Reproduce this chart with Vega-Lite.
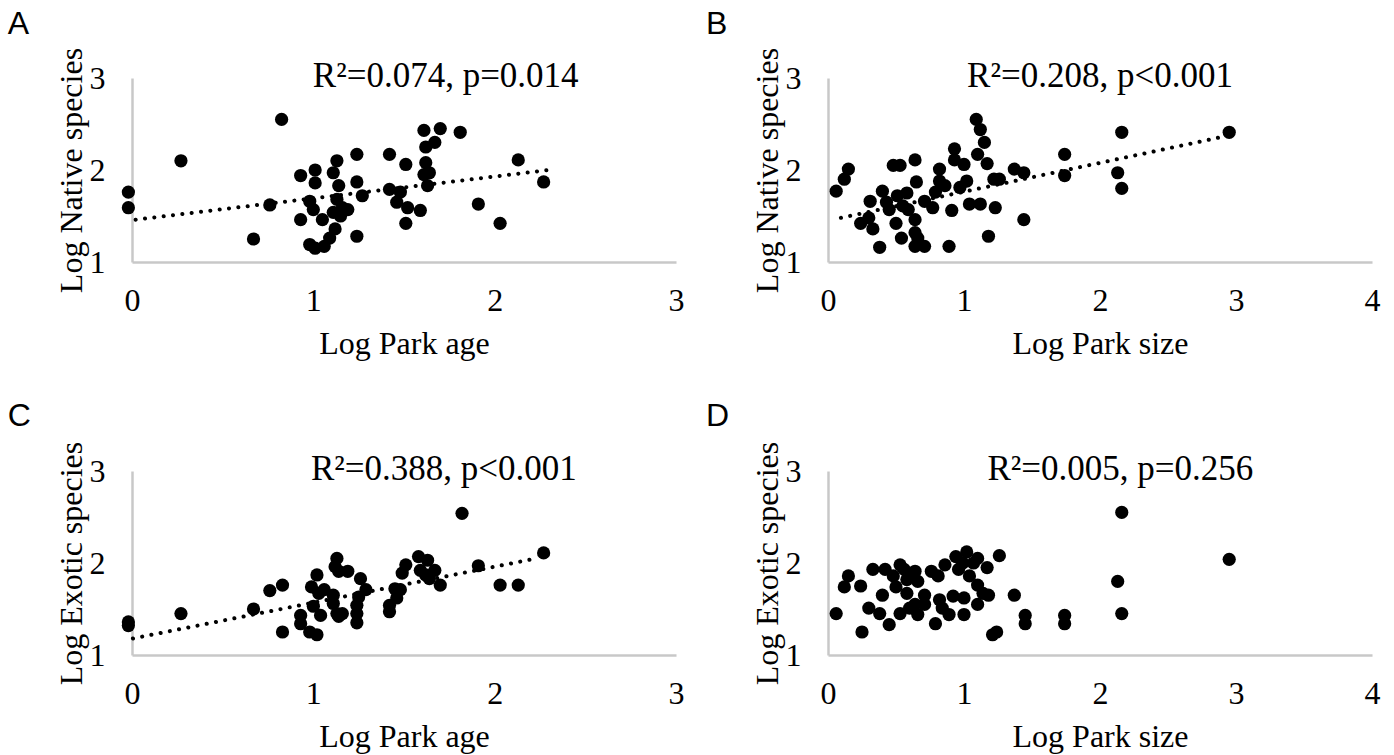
{
  "$schema": "https://vega.github.io/schema/vega-lite/v6.json",
  "background": "white",
  "padding": {"left": 7, "top": 8, "right": 5, "bottom": 5},
  "config": {
    "view": {"stroke": null},
    "axis": {
      "domainColor": "#c8c8c8", "domainWidth": 2.5, "ticks": false, "grid": false,
      "labelFont": "Liberation Serif", "labelFontSize": 32, "labelColor": "black", "labelFlush": false, "labelOverlap": false, "format": "d",
      "titleFont": "Liberation Serif", "titleFontSize": 32, "titleFontWeight": "normal", "titleColor": "black"
    },
    "axisX": {"labelPadding": 23, "titlePadding": 12},
    "axisY": {"labelPadding": 27, "titlePadding": 1}
  },
  "datasets": {
    "ptsA": [
      {"x": -0.02, "y": 1.76}, {"x": -0.02, "y": 1.59}, {"x": 0.27, "y": 2.10}, {"x": 0.825, "y": 2.55},
      {"x": 0.76, "y": 1.62}, {"x": 0.67, "y": 1.25}, {"x": 0.93, "y": 1.94}, {"x": 0.93, "y": 1.46},
      {"x": 1.01, "y": 2.0}, {"x": 1.01, "y": 1.86}, {"x": 0.98, "y": 1.66}, {"x": 1.0, "y": 1.57},
      {"x": 1.05, "y": 1.46}, {"x": 0.98, "y": 1.19}, {"x": 1.01, "y": 1.15}, {"x": 1.06, "y": 1.17},
      {"x": 1.09, "y": 1.26}, {"x": 1.12, "y": 1.36}, {"x": 1.13, "y": 2.10}, {"x": 1.11, "y": 1.97},
      {"x": 1.14, "y": 1.83}, {"x": 1.13, "y": 1.68}, {"x": 1.16, "y": 1.59}, {"x": 1.15, "y": 1.50},
      {"x": 1.19, "y": 1.57}, {"x": 1.11, "y": 1.54}, {"x": 1.24, "y": 2.17}, {"x": 1.24, "y": 1.87},
      {"x": 1.27, "y": 1.72}, {"x": 1.24, "y": 1.28}, {"x": 1.42, "y": 2.17}, {"x": 1.42, "y": 1.79},
      {"x": 1.51, "y": 2.06}, {"x": 1.48, "y": 1.76}, {"x": 1.46, "y": 1.65}, {"x": 1.52, "y": 1.59},
      {"x": 1.59, "y": 1.56}, {"x": 1.51, "y": 1.42}, {"x": 1.61, "y": 2.43}, {"x": 1.70, "y": 2.45},
      {"x": 1.67, "y": 2.30}, {"x": 1.62, "y": 2.25}, {"x": 1.62, "y": 2.08}, {"x": 1.61, "y": 1.95},
      {"x": 1.64, "y": 1.97}, {"x": 1.63, "y": 1.83}, {"x": 1.81, "y": 2.41}, {"x": 1.91, "y": 1.63},
      {"x": 2.03, "y": 1.42}, {"x": 2.13, "y": 2.11}, {"x": 2.27, "y": 1.87}
    ],
    "ptsB": [
      {"x": 0.06, "y": 1.77}, {"x": 0.12, "y": 1.90}, {"x": 0.15, "y": 2.01}, {"x": 0.24, "y": 1.42},
      {"x": 0.31, "y": 1.66}, {"x": 0.30, "y": 1.48}, {"x": 0.33, "y": 1.36}, {"x": 0.38, "y": 1.16},
      {"x": 0.40, "y": 1.77}, {"x": 0.43, "y": 1.65}, {"x": 0.45, "y": 1.57}, {"x": 0.48, "y": 2.05},
      {"x": 0.53, "y": 2.05}, {"x": 0.50, "y": 1.42}, {"x": 0.51, "y": 1.72}, {"x": 0.58, "y": 1.75},
      {"x": 0.55, "y": 1.61}, {"x": 0.54, "y": 1.26}, {"x": 0.59, "y": 1.57}, {"x": 0.64, "y": 2.11},
      {"x": 0.65, "y": 1.87}, {"x": 0.64, "y": 1.46}, {"x": 0.64, "y": 1.32}, {"x": 0.64, "y": 1.17},
      {"x": 0.71, "y": 1.17}, {"x": 0.66, "y": 1.26}, {"x": 0.71, "y": 1.66}, {"x": 0.77, "y": 1.59},
      {"x": 0.79, "y": 1.76}, {"x": 0.82, "y": 2.01}, {"x": 0.82, "y": 1.88}, {"x": 0.86, "y": 1.83},
      {"x": 0.89, "y": 1.17}, {"x": 0.91, "y": 1.56}, {"x": 0.93, "y": 2.23}, {"x": 0.93, "y": 2.11},
      {"x": 1.00, "y": 2.06}, {"x": 0.97, "y": 1.81}, {"x": 1.02, "y": 1.88}, {"x": 1.04, "y": 1.63},
      {"x": 1.09, "y": 2.55}, {"x": 1.12, "y": 2.44}, {"x": 1.15, "y": 2.30}, {"x": 1.10, "y": 2.17},
      {"x": 1.17, "y": 2.07}, {"x": 1.12, "y": 1.63}, {"x": 1.18, "y": 1.28}, {"x": 1.23, "y": 1.59},
      {"x": 1.22, "y": 1.90}, {"x": 1.26, "y": 1.90}, {"x": 1.37, "y": 2.01}, {"x": 1.44, "y": 1.97},
      {"x": 1.44, "y": 1.46}, {"x": 1.74, "y": 2.17}, {"x": 1.74, "y": 1.94}, {"x": 2.13, "y": 1.97},
      {"x": 2.16, "y": 2.41}, {"x": 2.16, "y": 1.80}, {"x": 2.95, "y": 2.41}
    ],
    "ptsC": [
      {"x": -0.02, "y": 1.36}, {"x": -0.02, "y": 1.32}, {"x": 0.27, "y": 1.45}, {"x": 0.67, "y": 1.50},
      {"x": 0.76, "y": 1.70}, {"x": 0.83, "y": 1.76}, {"x": 0.83, "y": 1.25}, {"x": 0.93, "y": 1.43},
      {"x": 0.93, "y": 1.34}, {"x": 0.98, "y": 1.25}, {"x": 1.02, "y": 1.22}, {"x": 1.02, "y": 1.87},
      {"x": 0.99, "y": 1.74}, {"x": 1.03, "y": 1.67}, {"x": 1.00, "y": 1.53}, {"x": 1.04, "y": 1.43},
      {"x": 1.06, "y": 1.71}, {"x": 1.11, "y": 1.65}, {"x": 1.13, "y": 2.05}, {"x": 1.12, "y": 1.96},
      {"x": 1.14, "y": 1.91}, {"x": 1.19, "y": 1.91}, {"x": 1.13, "y": 1.45}, {"x": 1.16, "y": 1.45},
      {"x": 1.11, "y": 1.56}, {"x": 1.14, "y": 1.42}, {"x": 1.24, "y": 1.35}, {"x": 1.24, "y": 1.45},
      {"x": 1.24, "y": 1.54}, {"x": 1.25, "y": 1.63}, {"x": 1.26, "y": 1.83}, {"x": 1.29, "y": 1.71},
      {"x": 1.42, "y": 1.47}, {"x": 1.42, "y": 1.54}, {"x": 1.46, "y": 1.62}, {"x": 1.45, "y": 1.72},
      {"x": 1.48, "y": 1.71}, {"x": 1.51, "y": 1.98}, {"x": 1.49, "y": 1.89}, {"x": 1.58, "y": 2.07},
      {"x": 1.59, "y": 1.92}, {"x": 1.63, "y": 2.03}, {"x": 1.64, "y": 1.83}, {"x": 1.67, "y": 1.92},
      {"x": 1.70, "y": 1.76}, {"x": 1.62, "y": 1.87}, {"x": 1.82, "y": 2.54}, {"x": 1.91, "y": 1.97},
      {"x": 2.03, "y": 1.76}, {"x": 2.13, "y": 1.76}, {"x": 2.27, "y": 2.11}
    ],
    "ptsD": [
      {"x": 0.06, "y": 1.45}, {"x": 0.12, "y": 1.74}, {"x": 0.15, "y": 1.86}, {"x": 0.24, "y": 1.75},
      {"x": 0.25, "y": 1.25}, {"x": 0.30, "y": 1.51}, {"x": 0.33, "y": 1.93}, {"x": 0.38, "y": 1.45},
      {"x": 0.40, "y": 1.65}, {"x": 0.42, "y": 1.93}, {"x": 0.45, "y": 1.33}, {"x": 0.48, "y": 1.86},
      {"x": 0.50, "y": 1.74}, {"x": 0.53, "y": 1.98}, {"x": 0.53, "y": 1.45}, {"x": 0.56, "y": 1.93},
      {"x": 0.58, "y": 1.82}, {"x": 0.58, "y": 1.67}, {"x": 0.60, "y": 1.51}, {"x": 0.64, "y": 1.91},
      {"x": 0.66, "y": 1.80}, {"x": 0.64, "y": 1.55}, {"x": 0.66, "y": 1.44}, {"x": 0.71, "y": 1.65},
      {"x": 0.71, "y": 1.55}, {"x": 0.76, "y": 1.91}, {"x": 0.81, "y": 1.86}, {"x": 0.86, "y": 1.98},
      {"x": 0.79, "y": 1.34}, {"x": 0.82, "y": 1.60}, {"x": 0.84, "y": 1.51}, {"x": 0.89, "y": 1.44},
      {"x": 0.92, "y": 1.64}, {"x": 0.94, "y": 2.07}, {"x": 0.96, "y": 1.93}, {"x": 1.00, "y": 1.62},
      {"x": 1.00, "y": 1.44}, {"x": 1.02, "y": 2.12}, {"x": 0.99, "y": 2.00}, {"x": 1.04, "y": 1.86},
      {"x": 1.07, "y": 2.00}, {"x": 1.10, "y": 2.05}, {"x": 1.10, "y": 1.76}, {"x": 1.10, "y": 1.55},
      {"x": 1.14, "y": 1.67}, {"x": 1.17, "y": 1.95}, {"x": 1.18, "y": 1.65}, {"x": 1.21, "y": 1.22},
      {"x": 1.24, "y": 1.25}, {"x": 1.26, "y": 2.08}, {"x": 1.37, "y": 1.65}, {"x": 1.45, "y": 1.43},
      {"x": 1.45, "y": 1.34}, {"x": 1.74, "y": 1.43}, {"x": 1.74, "y": 1.34}, {"x": 2.13, "y": 1.80},
      {"x": 2.16, "y": 2.55}, {"x": 2.16, "y": 1.45}, {"x": 2.95, "y": 2.04}
    ],
    "trendA": [{"x": 0.02, "y": 1.46}, {"x": 2.30, "y": 2.0}],
    "trendB": [{"x": 0.095, "y": 1.48}, {"x": 2.9, "y": 2.36}],
    "trendC": [{"x": 0.005, "y": 1.18}, {"x": 2.23, "y": 2.05}],
    "statA": [{"x": 1.73, "y": 3.02, "label": "R²=0.074, p=0.014"}],
    "statB": [{"x": 2.0, "y": 3.02, "label": "R²=0.208, p<0.001"}],
    "statC": [{"x": 1.72, "y": 3.02, "label": "R²=0.388, p<0.001"}],
    "statD": [{"x": 2.15, "y": 3.02, "label": "R²=0.005, p=0.256"}],
    "letterA": [{"x": -0.685, "y": 3.585, "label": "A"}],
    "letterB": [{"x": -0.897, "y": 3.585, "label": "B"}],
    "letterC": [{"x": -0.685, "y": 3.6, "label": "C"}],
    "letterD": [{"x": -0.897, "y": 3.6, "label": "D"}]
  },
  "vconcat": [
    {
      "hconcat": [
        {
          "width": 544, "height": 184,
          "layer": [
            {"data": {"name": "trendA"}, "mark": {"type": "line", "color": "black", "strokeWidth": 4, "strokeCap": "round", "strokeDash": [0.1, 9.3], "clip": false},
             "encoding": {"x": {"field": "x", "type": "quantitative"}, "y": {"field": "y", "type": "quantitative"}}},
            {"data": {"name": "ptsA"}, "mark": {"type": "circle", "size": 175, "color": "black", "opacity": 1},
             "encoding": {
               "x": {"field": "x", "type": "quantitative", "scale": {"domain": [0, 3], "nice": false}, "axis": {"title": "Log Park age", "values": [0, 1, 2, 3]}},
               "y": {"field": "y", "type": "quantitative", "scale": {"domain": [1, 3], "nice": false, "zero": false}, "axis": {"title": "Log Native species", "values": [1, 2, 3]}}}},
            {"data": {"name": "statA"}, "mark": {"type": "text", "font": "Liberation Serif", "fontSize": 35, "color": "black", "align": "center", "baseline": "middle"},
             "encoding": {"x": {"field": "x", "type": "quantitative"}, "y": {"field": "y", "type": "quantitative"}, "text": {"field": "label"}}},
            {"data": {"name": "letterA"}, "mark": {"type": "text", "font": "Liberation Sans", "fontSize": 32, "color": "black", "align": "left", "baseline": "middle"},
             "encoding": {"x": {"field": "x", "type": "quantitative"}, "y": {"field": "y", "type": "quantitative"}, "text": {"field": "label"}}}
          ]
        },
        {
          "width": 544, "height": 184,
          "layer": [
            {"data": {"name": "trendB"}, "mark": {"type": "line", "color": "black", "strokeWidth": 4, "strokeCap": "round", "strokeDash": [0.1, 9.3], "clip": false},
             "encoding": {"x": {"field": "x", "type": "quantitative"}, "y": {"field": "y", "type": "quantitative"}}},
            {"data": {"name": "ptsB"}, "mark": {"type": "circle", "size": 175, "color": "black", "opacity": 1},
             "encoding": {
               "x": {"field": "x", "type": "quantitative", "scale": {"domain": [0, 4], "nice": false}, "axis": {"title": "Log Park size", "values": [0, 1, 2, 3, 4]}},
               "y": {"field": "y", "type": "quantitative", "scale": {"domain": [1, 3], "nice": false, "zero": false}, "axis": {"title": "Log Native species", "values": [1, 2, 3]}}}},
            {"data": {"name": "statB"}, "mark": {"type": "text", "font": "Liberation Serif", "fontSize": 35, "color": "black", "align": "center", "baseline": "middle"},
             "encoding": {"x": {"field": "x", "type": "quantitative"}, "y": {"field": "y", "type": "quantitative"}, "text": {"field": "label"}}},
            {"data": {"name": "letterB"}, "mark": {"type": "text", "font": "Liberation Sans", "fontSize": 32, "color": "black", "align": "left", "baseline": "middle"},
             "encoding": {"x": {"field": "x", "type": "quantitative"}, "y": {"field": "y", "type": "quantitative"}, "text": {"field": "label"}}}
          ]
        }
      ],
      "spacing": 22
    },
    {
      "hconcat": [
        {
          "width": 544, "height": 184,
          "layer": [
            {"data": {"name": "trendC"}, "mark": {"type": "line", "color": "black", "strokeWidth": 4, "strokeCap": "round", "strokeDash": [0.1, 9.3], "clip": false},
             "encoding": {"x": {"field": "x", "type": "quantitative"}, "y": {"field": "y", "type": "quantitative"}}},
            {"data": {"name": "ptsC"}, "mark": {"type": "circle", "size": 175, "color": "black", "opacity": 1},
             "encoding": {
               "x": {"field": "x", "type": "quantitative", "scale": {"domain": [0, 3], "nice": false}, "axis": {"title": "Log Park age", "values": [0, 1, 2, 3]}},
               "y": {"field": "y", "type": "quantitative", "scale": {"domain": [1, 3], "nice": false, "zero": false}, "axis": {"title": "Log Exotic species", "values": [1, 2, 3]}}}},
            {"data": {"name": "statC"}, "mark": {"type": "text", "font": "Liberation Serif", "fontSize": 35, "color": "black", "align": "center", "baseline": "middle"},
             "encoding": {"x": {"field": "x", "type": "quantitative"}, "y": {"field": "y", "type": "quantitative"}, "text": {"field": "label"}}},
            {"data": {"name": "letterC"}, "mark": {"type": "text", "font": "Liberation Sans", "fontSize": 32, "color": "black", "align": "left", "baseline": "middle"},
             "encoding": {"x": {"field": "x", "type": "quantitative"}, "y": {"field": "y", "type": "quantitative"}, "text": {"field": "label"}}}
          ]
        },
        {
          "width": 544, "height": 184,
          "layer": [
            {"data": {"name": "ptsD"}, "mark": {"type": "circle", "size": 175, "color": "black", "opacity": 1},
             "encoding": {
               "x": {"field": "x", "type": "quantitative", "scale": {"domain": [0, 4], "nice": false}, "axis": {"title": "Log Park size", "values": [0, 1, 2, 3, 4]}},
               "y": {"field": "y", "type": "quantitative", "scale": {"domain": [1, 3], "nice": false, "zero": false}, "axis": {"title": "Log Exotic species", "values": [1, 2, 3]}}}},
            {"data": {"name": "statD"}, "mark": {"type": "text", "font": "Liberation Serif", "fontSize": 35, "color": "black", "align": "center", "baseline": "middle"},
             "encoding": {"x": {"field": "x", "type": "quantitative"}, "y": {"field": "y", "type": "quantitative"}, "text": {"field": "label"}}},
            {"data": {"name": "letterD"}, "mark": {"type": "text", "font": "Liberation Sans", "fontSize": 32, "color": "black", "align": "left", "baseline": "middle"},
             "encoding": {"x": {"field": "x", "type": "quantitative"}, "y": {"field": "y", "type": "quantitative"}, "text": {"field": "label"}}}
          ]
        }
      ],
      "spacing": 22
    }
  ],
  "spacing": 40
}
